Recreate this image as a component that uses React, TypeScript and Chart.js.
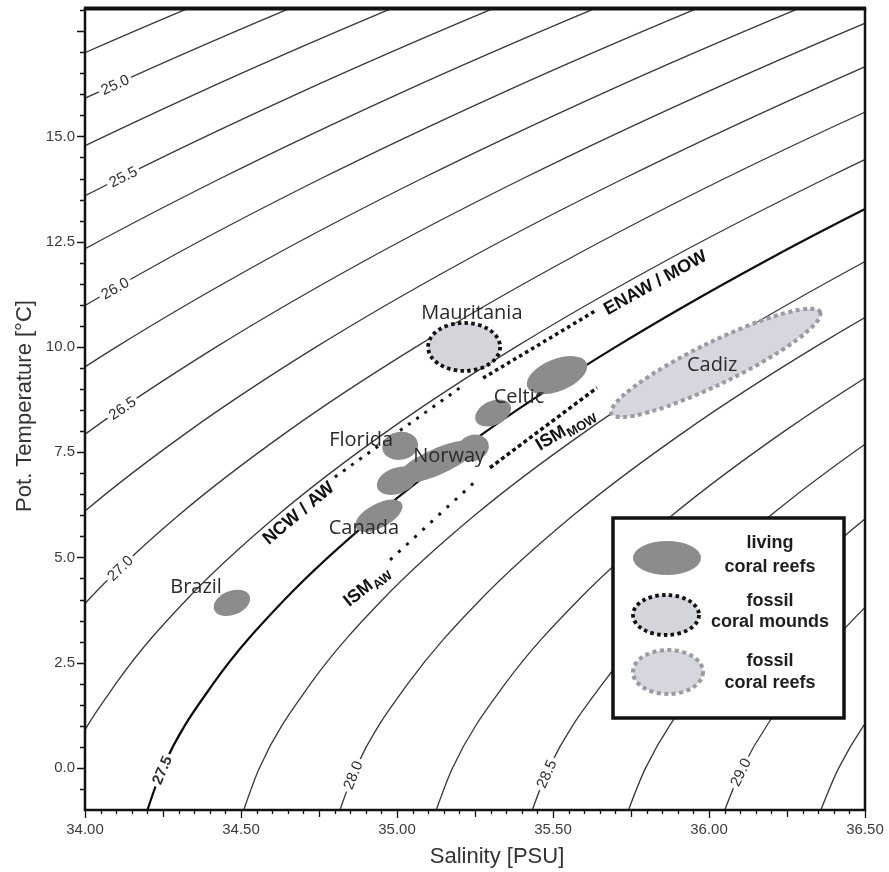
import React, { useEffect, useRef } from "react";
import { Chart, registerables } from "chart.js";

Chart.register(...registerables);

// ---------- data ----------
// potential temperature (°C) at which the isopycnal salinities were read
const tempSamples = [-2, 0, 2, 4, 6, 8, 10, 12, 14, 16, 18, 20];
// sigma-theta levels of the isopycnals
const isoLevels = [24.75, 25.0, 25.25, 25.5, 25.75, 26.0, 26.25, 26.5, 26.75, 27.0, 27.25, 27.5, 27.75, 28.0, 28.25, 28.5, 28.75, 29.0, 29.25];
// salinity (PSU) of each isopycnal at each sample temperature
const isoSalinity: (number | null)[][] = [
  [null, null, null, null, null, null, null, 32.631, 33.139, 33.702, 34.317, 34.983],
  [null, null, null, null, null, null, null, 32.953, 33.463, 34.027, 34.643, 35.311],
  [null, null, null, null, null, null, 32.819, 33.275, 33.786, 34.352, 34.97, 35.638],
  [null, null, null, null, null, 32.741, 33.14, 33.597, 34.11, 34.677, 35.296, 35.966],
  [null, null, null, null, 32.718, 33.059, 33.46, 33.919, 34.434, 35.002, 35.622, 36.293],
  [null, null, 32.539, 32.754, 33.035, 33.378, 33.78, 34.241, 34.757, 35.327, 35.949, 36.621],
  [32.62, 32.7, 32.851, 33.069, 33.351, 33.696, 34.101, 34.563, 35.08, 35.652, 36.275, 36.948],
  [32.928, 33.01, 33.163, 33.383, 33.668, 34.014, 34.421, 34.885, 35.404, 35.977, 36.601, 37.276],
  [33.235, 33.32, 33.475, 33.697, 33.984, 34.333, 34.741, 35.206, 35.727, 36.301, 36.927, 37.603],
  [33.542, 33.63, 33.787, 34.012, 34.3, 34.651, 35.061, 35.528, 36.05, 36.626, 37.253, 37.93],
  [33.849, 33.939, 34.099, 34.326, 34.617, 34.969, 35.381, 35.85, 36.374, 36.951, 37.579, 38.257],
  [34.156, 34.249, 34.411, 34.64, 34.933, 35.287, 35.701, 36.171, 36.697, 37.275, 37.905, null],
  [34.463, 34.559, 34.723, 34.954, 35.249, 35.606, 36.021, 36.493, 37.02, 37.6, 38.231, null],
  [34.771, 34.868, 35.035, 35.268, 35.565, 35.924, 36.341, 36.815, 37.343, 37.924, null, null],
  [35.078, 35.178, 35.347, 35.583, 35.882, 36.242, 36.661, 37.136, 37.666, 38.249, null, null],
  [35.385, 35.487, 35.659, 35.897, 36.198, 36.56, 36.98, 37.457, 37.989, null, null, null],
  [35.692, 35.797, 35.971, 36.211, 36.514, 36.878, 37.3, 37.779, 38.312, null, null, null],
  [35.999, 36.107, 36.283, 36.525, 36.83, 37.196, 37.62, 38.1, null, null, null, null],
  [36.306, 36.416, 36.595, 36.839, 37.146, 37.514, 37.94, 38.421, null, null, null, null],
];
const boldLevel = 27.5;

// isopycnal labels: level, axis used to place it, value on that axis
const isoLabelLevels = [25.0, 25.5, 26.0, 26.5, 27.0, 27.5, 28.0, 28.5, 29.0];
const isoLabelAxis = ["x", "x", "x", "x", "x", "y", "y", "y", "y"];
const isoLabelAt = [34.096, 34.122, 34.096, 34.119, 34.112, -0.05, -0.17, -0.14, -0.1];

// axis ticks
const xTickValues = [34.0, 34.5, 35.0, 35.5, 36.0, 36.5];
const yTickValues = [0.0, 2.5, 5.0, 7.5, 10.0, 12.5, 15.0];

// living coral reefs (patch centres, salinity / temperature)
const livingS = [34.471, 34.942, 35.01, 35.0, 35.128, 35.244, 35.308, 35.513];
const livingT = [3.92, 5.99, 7.65, 6.82, 7.27, 7.6, 8.43, 9.33];
// fossil coral mounds
const moundS = [35.215];
const moundT = [10.0];
// fossil coral reefs
const fossilReefS = [36.022];
const fossilReefT = [9.62];

// site names
const siteNames = ["Mauritania", "Celtic", "Florida", "Norway", "Canada", "Brazil", "Cadiz"];
const siteS = [35.24, 35.391, 34.885, 35.167, 34.894, 34.356, 36.01];
const siteT = [10.81, 8.81, 7.77, 7.41, 5.7, 4.3, 9.57];

// water-mass lines
const ncwS = [34.801, 35.202];
const ncwT = [6.91, 9.03];
const enawS = [35.276, 35.641];
const enawT = [9.26, 10.88];
const ismMowS = [35.298, 35.641];
const ismMowT = [7.13, 9.03];
const ismAwS = [34.978, 35.256];
const ismAwT = [4.94, 6.84];

// water-mass labels
const wmMain = ["NCW / AW", "ENAW / MOW", "ISM", "ISM"];
const wmSub = ["", "", "MOW", "AW"];
const wmS = [34.683, 35.827, 35.538, 34.901];
const wmT = [6.06, 11.54, 8.05, 4.32];

// legend
const legendLines = [["living", "coral reefs"], ["fossil", "coral mounds"], ["fossil", "coral reefs"]];

// ---------- styles ----------
const livingShape = [
  [19, 12, -22], [26, 12, -28], [18, 14, -10], [21, 13, -20],
  [45, 13, -24], [16, 13, -20], [19, 12, -25], [32, 16, -22],
];
const moundShape = [[36, 24, 0]];
const fossilReefShape = [[116, 21, -26]];
const wmRot = [-40, -29, -31, -39];

const FONT = '"Liberation Sans", Arial, Helvetica, sans-serif';
const SITE_FONT = '"Open Sans", "Noto Sans", sans-serif';
const LIVING_FILL = "#8c8c8c";
const MOUND_FILL = "#d4d4db";
const FOSSIL_FILL = "#d6d6de";
const FOSSIL_STROKE = "#9a9aa3";

function bez(a: number, b: number, c: number, d: number, t: number) {
  const u = 1 - t;
  return u * u * u * a + 3 * u * u * t * b + 3 * u * t * t * c + t * t * t * d;
}
function bezD(a: number, b: number, c: number, d: number, t: number) {
  const u = 1 - t;
  return 3 * u * u * (b - a) + 6 * u * t * (c - b) + 3 * t * t * (d - c);
}

function pointOnCurve(pts: any[], prop: "x" | "y", value: number) {
  for (let i = 0; i < pts.length - 1; i++) {
    const a = pts[i];
    const b = pts[i + 1];
    const lo = Math.min(a[prop], b[prop]);
    const hi = Math.max(a[prop], b[prop]);
    if (value < lo || value > hi) continue;
    const P = {
      x: [a.x, a.cp2x ?? a.x, b.cp1x ?? b.x, b.x],
      y: [a.y, a.cp2y ?? a.y, b.cp1y ?? b.y, b.y],
    };
    const arr = P[prop];
    const inc = arr[3] > arr[0];
    let t0 = 0, t1 = 1;
    for (let k = 0; k < 50; k++) {
      const tm = (t0 + t1) / 2;
      const v = bez(arr[0], arr[1], arr[2], arr[3], tm);
      if ((v < value) === inc) t0 = tm; else t1 = tm;
    }
    const t = (t0 + t1) / 2;
    const x = bez(P.x[0], P.x[1], P.x[2], P.x[3], t);
    const y = bez(P.y[0], P.y[1], P.y[2], P.y[3], t);
    let dx = bezD(P.x[0], P.x[1], P.x[2], P.x[3], t);
    let dy = bezD(P.y[0], P.y[1], P.y[2], P.y[3], t);
    if (dx < 0) { dx = -dx; dy = -dy; }
    return { x, y, angle: Math.atan2(dy, dx) };
  }
  return null;
}

function ellipse(ctx: CanvasRenderingContext2D, cx: number, cy: number, rx: number, ry: number, rotDeg: number) {
  ctx.beginPath();
  ctx.ellipse(cx, cy, rx, ry, (rotDeg * Math.PI) / 180, 0, Math.PI * 2);
}

const overlayPlugin = {
  id: "tsOverlay",
  afterDatasetsDraw(chart: any) {
    const { ctx, chartArea: area } = chart;
    const xs = chart.scales.x;
    const ys = chart.scales.y;
    ctx.save();
    ctx.beginPath();
    ctx.rect(area.left, area.top, area.right - area.left, area.bottom - area.top);
    ctx.clip();

    // isopycnal labels
    isoLabelLevels.forEach((lvl, k) => {
      const di = isoLevels.indexOf(lvl);
      const meta = chart.getDatasetMeta(di);
      const axis = isoLabelAxis[k] as "x" | "y";
      const pix = axis === "x" ? xs.getPixelForValue(isoLabelAt[k]) : ys.getPixelForValue(isoLabelAt[k]);
      const p = pointOnCurve(meta.data, axis, pix);
      if (!p) return;
      const txt = lvl.toFixed(1);
      ctx.save();
      ctx.translate(p.x, p.y);
      ctx.rotate(p.angle);
      ctx.font = (lvl === boldLevel ? "bold " : "") + "15px " + FONT;
      const w = ctx.measureText(txt).width;
      ctx.fillStyle = "#ffffff";
      ctx.fillRect(-w / 2 - 3, -7, w + 6, 14);
      ctx.fillStyle = "#2e2e2e";
      ctx.textAlign = "center";
      ctx.textBaseline = "middle";
      ctx.fillText(txt, 0, 1);
      ctx.restore();
    });

    // fossil coral reefs
    fossilReefS.forEach((s, i) => {
      const [rx, ry, rot] = fossilReefShape[i];
      ellipse(ctx, xs.getPixelForValue(s), ys.getPixelForValue(fossilReefT[i]), rx, ry, rot);
      ctx.fillStyle = FOSSIL_FILL;
      ctx.fill();
      ctx.setLineDash([4, 3.5]);
      ctx.lineWidth = 4;
      ctx.strokeStyle = FOSSIL_STROKE;
      ctx.stroke();
      ctx.setLineDash([]);
    });
    // fossil coral mounds
    moundS.forEach((s, i) => {
      const [rx, ry, rot] = moundShape[i];
      ellipse(ctx, xs.getPixelForValue(s), ys.getPixelForValue(moundT[i]), rx, ry, rot);
      ctx.fillStyle = MOUND_FILL;
      ctx.fill();
      ctx.setLineDash([3.5, 3.3]);
      ctx.lineWidth = 3.8;
      ctx.strokeStyle = "#111";
      ctx.stroke();
      ctx.setLineDash([]);
    });
    // living coral reefs
    livingS.forEach((s, i) => {
      const [rx, ry, rot] = livingShape[i];
      ellipse(ctx, xs.getPixelForValue(s), ys.getPixelForValue(livingT[i]), rx, ry, rot);
      ctx.fillStyle = LIVING_FILL;
      ctx.fill();
    });

    // site names
    ctx.font = "20px " + SITE_FONT;
    ctx.fillStyle = "#2a2a2a";
    ctx.textAlign = "center";
    ctx.textBaseline = "middle";
    siteNames.forEach((n, i) => {
      ctx.fillText(n, xs.getPixelForValue(siteS[i]), ys.getPixelForValue(siteT[i]));
    });

    // water-mass labels
    wmMain.forEach((m, i) => {
      ctx.save();
      ctx.translate(xs.getPixelForValue(wmS[i]), ys.getPixelForValue(wmT[i]));
      ctx.rotate((wmRot[i] * Math.PI) / 180);
      ctx.fillStyle = "#111";
      ctx.textBaseline = "alphabetic";
      ctx.textAlign = "left";
      ctx.font = "bold 18px " + FONT;
      const w1 = ctx.measureText(m).width;
      let w2 = 0;
      if (wmSub[i]) {
        ctx.font = "bold 13px " + FONT;
        w2 = ctx.measureText(wmSub[i]).width;
      }
      const x0 = -(w1 + w2) / 2;
      ctx.font = "bold 18px " + FONT;
      ctx.fillText(m, x0, 6);
      if (wmSub[i]) {
        ctx.font = "bold 13px " + FONT;
        ctx.fillText(wmSub[i], x0 + w1 + 0.5, 10);
      }
      ctx.restore();
    });
    ctx.restore();

    // legend box
    const lx = area.right - 252;
    const ly = area.bottom - 292;
    const lw = 231;
    const lh = 200;
    ctx.save();
    ctx.fillStyle = "#ffffff";
    ctx.fillRect(lx, ly, lw, lh);
    ctx.lineWidth = 3.5;
    ctx.strokeStyle = "#111";
    ctx.strokeRect(lx, ly, lw, lh);

    ellipse(ctx, lx + 54, ly + 40, 34, 17, 0);
    ctx.fillStyle = LIVING_FILL;
    ctx.fill();

    ellipse(ctx, lx + 53, ly + 97, 33, 20, 0);
    ctx.fillStyle = MOUND_FILL;
    ctx.fill();
    ctx.setLineDash([3.5, 3.3]);
    ctx.lineWidth = 3.8;
    ctx.strokeStyle = "#111";
    ctx.stroke();

    ellipse(ctx, lx + 55, ly + 154, 35, 22, 0);
    ctx.fillStyle = FOSSIL_FILL;
    ctx.fill();
    ctx.setLineDash([4, 3.5]);
    ctx.lineWidth = 4;
    ctx.strokeStyle = FOSSIL_STROKE;
    ctx.stroke();
    ctx.setLineDash([]);

    ctx.font = "bold 18px " + FONT;
    ctx.fillStyle = "#1e1e1e";
    ctx.textAlign = "center";
    ctx.textBaseline = "middle";
    const rowY = [[25, 49], [83, 104], [143, 165]];
    legendLines.forEach((pair, i) => {
      ctx.fillText(pair[0], lx + 157, ly + rowY[i][0]);
      ctx.fillText(pair[1], lx + 157, ly + rowY[i][1]);
    });
    ctx.restore();
  },
  afterDraw(chart: any) {
    const { ctx, chartArea: area } = chart;
    const xs = chart.scales.x;
    const ys = chart.scales.y;
    ctx.save();
    ctx.strokeStyle = "#111";
    // ticks
    ctx.lineWidth = 1.3;
    ctx.beginPath();
    for (let k = 0; k <= 50; k++) {
      const v = 34 + k * 0.05;
      const px = Math.round(xs.getPixelForValue(v)) + 0.5;
      const len = k % 10 === 0 ? 8 : k % 5 === 0 ? 7 : 4;
      ctx.moveTo(px, area.bottom);
      ctx.lineTo(px, area.bottom + len);
    }
    for (let k = -2; k <= 36; k++) {
      const v = k * 0.5;
      const py = Math.round(ys.getPixelForValue(v)) + 0.5;
      if (py < area.top || py > area.bottom) continue;
      const len = k % 5 === 0 ? 8 : 5;
      ctx.moveTo(area.left, py);
      ctx.lineTo(area.left - len, py);
    }
    ctx.stroke();
    // frame
    ctx.lineWidth = 2.5;
    ctx.beginPath();
    ctx.moveTo(area.left, area.top);
    ctx.lineTo(area.left, area.bottom);
    ctx.lineTo(area.right, area.bottom);
    ctx.lineTo(area.right, area.top);
    ctx.stroke();
    ctx.lineWidth = 4;
    ctx.beginPath();
    ctx.moveTo(area.left - 1.2, area.top + 0.5);
    ctx.lineTo(area.right + 1.2, area.top + 0.5);
    ctx.stroke();

    // axis titles
    ctx.fillStyle = "#333";
    ctx.font = "22px " + FONT;
    ctx.textAlign = "center";
    ctx.textBaseline = "middle";
    ctx.fillText("Salinity [PSU]", 497, 857);
    ctx.translate(25, area.top + 398);
    ctx.rotate(-Math.PI / 2);
    ctx.fillText("Pot. Temperature [°C]", 0, 0);
    ctx.restore();
  },
};

export default function App() {
  const ref = useRef<HTMLCanvasElement | null>(null);
  useEffect(() => {
    if (!ref.current) return;
    Chart.defaults.font.family = FONT;

    const isoSets = isoLevels.map((lvl, i) => {
      const pts: { x: number; y: number }[] = [];
      tempSamples.forEach((t, j) => {
        const s = isoSalinity[i][j];
        if (s !== null) pts.push({ x: s, y: t });
      });
      return {
        label: "σθ " + lvl.toFixed(2),
        data: pts,
        borderColor: lvl === boldLevel ? "#0d0d0d" : "#383838",
        borderWidth: lvl === boldLevel ? 2.2 : 1.3,
        pointRadius: 0,
        cubicInterpolationMode: "monotone" as const,
        fill: false,
      };
    });
    const wm = (sArr: number[], tArr: number[], dash: number[], width: number, label: string) => ({
      label,
      data: sArr.map((s, i) => ({ x: s, y: tArr[i] })),
      borderColor: "#111",
      borderWidth: width,
      borderDash: dash,
      borderCapStyle: "butt" as const,
      pointRadius: 0,
      tension: 0,
      fill: false,
    });

    const chart = new Chart(ref.current, {
      type: "line",
      data: {
        datasets: [
          ...isoSets,
          wm(ncwS, ncwT, [3, 7], 3, "NCW / AW"),
          wm(enawS, enawT, [3.5, 3.5], 3.5, "ENAW / MOW"),
          wm(ismMowS, ismMowT, [4, 3], 3.5, "ISM MOW"),
          wm(ismAwS, ismAwT, [3, 8], 3, "ISM AW"),
        ],
      },
      options: {
        animation: false,
        responsive: true,
        maintainAspectRatio: false,
        devicePixelRatio: 1,
        layout: { padding: { top: 8, right: 24, left: 0, bottom: 0 } },
        elements: { line: { capBezierPoints: false } },
        plugins: { legend: { display: false }, tooltip: { enabled: false } },
        scales: {
          x: {
            type: "linear",
            min: 34,
            max: 36.5,
            afterBuildTicks: (s: any) => {
              s.ticks = xTickValues.map((v) => ({ value: v }));
            },
            afterFit: (s: any) => {
              s.height = 62;
              s.paddingLeft = 0;
              s.paddingRight = 0;
              s.paddingTop = 0;
              s.paddingBottom = 0;
            },
            grid: { display: false, drawTicks: false },
            border: { display: false },
            ticks: {
              autoSkip: false,
              maxRotation: 0,
              padding: 11,
              color: "#3c3c3c",
              font: { size: 15, family: FONT },
              callback: (v: any) => Number(v).toFixed(2),
            },
          },
          y: {
            type: "linear",
            min: -1.0,
            max: 18.05,
            afterBuildTicks: (s: any) => {
              s.ticks = yTickValues.map((v) => ({ value: v }));
            },
            afterFit: (s: any) => {
              s.width = 85;
              s.paddingLeft = 0;
              s.paddingRight = 0;
              s.paddingTop = 0;
              s.paddingBottom = 0;
            },
            grid: { display: false, drawTicks: false },
            border: { display: false },
            ticks: {
              autoSkip: false,
              padding: 10,
              color: "#3c3c3c",
              font: { size: 15, family: FONT },
              callback: (v: any) => Number(v).toFixed(1),
            },
          },
        },
      },
      plugins: [overlayPlugin],
    });
    return () => chart.destroy();
  }, []);

  return (
    <div style={{ position: "absolute", left: 0, top: 0, width: 889, height: 872, background: "#fff" }}>
      <canvas ref={ref} />
    </div>
  );
}
